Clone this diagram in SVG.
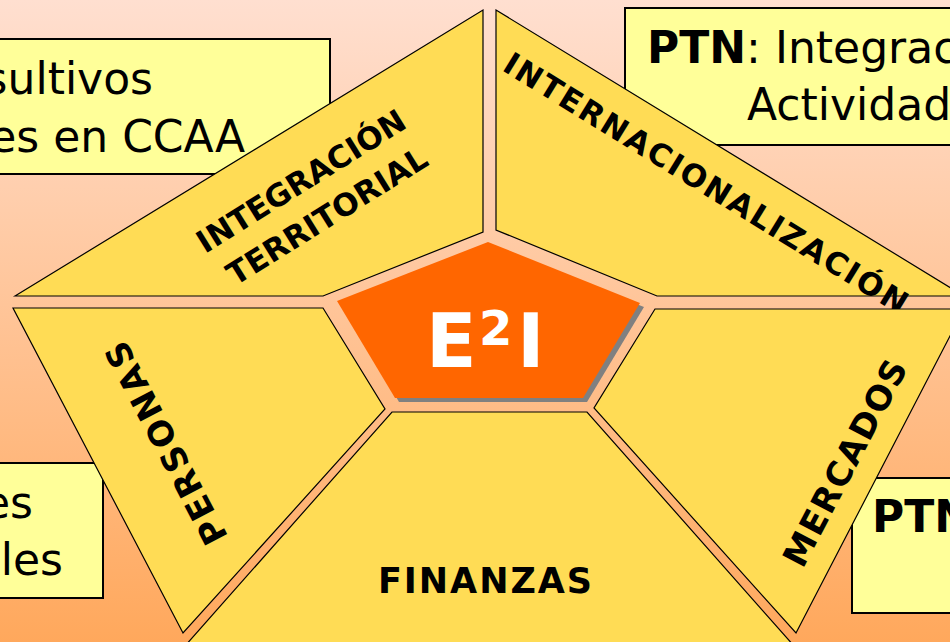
<svg xmlns="http://www.w3.org/2000/svg" width="950" height="642" viewBox="0 0 950 642">
<defs>
<linearGradient id="bg" x1="0" y1="0" x2="0" y2="642" gradientUnits="userSpaceOnUse">
<stop offset="0" stop-color="#FFDFD0"/>
<stop offset="1" stop-color="#FFA85C"/>
</linearGradient>
<style>
.box{fill:#FFFF99;stroke:#000;stroke-width:2}
.seg{fill:#FFDC55;stroke:#000;stroke-width:1.2;stroke-linejoin:miter}
.bt{font-family:"DejaVu Sans",sans-serif;font-size:44px;fill:#000}
.bb{font-weight:bold}
.lab{font-family:"DejaVu Sans",sans-serif;font-weight:bold;fill:#000}
.core{font-family:"DejaVu Sans",sans-serif;font-weight:bold;fill:#fff}
</style>
</defs>
<rect x="0" y="0" width="950" height="642" fill="url(#bg)"/>

<g id="box-consultivos">
<rect class="box" x="-10" y="39" width="340" height="135"/>
<text class="bt" x="153" y="94" text-anchor="end">sultivos</text>
<text class="bt" x="245" y="152" text-anchor="end">es en CCAA</text>
</g>
<g id="box-ptn-top">
<rect class="box" x="625" y="8" width="340" height="137"/>
<text class="bt" y="63"><tspan class="bb" x="647">PTN</tspan><tspan x="746">:</tspan><tspan x="775">Integrac</tspan></text>
<text class="bt" x="747" y="120">Actividad</text>
</g>
<g id="box-left-bottom">
<rect class="box" x="-10" y="463" width="113" height="135"/>
<text class="bt" x="33" y="518" text-anchor="end">es</text>
<text class="bt" x="63" y="575" text-anchor="end">ales</text>
</g>
<g id="box-ptn-bottom">
<rect class="box" x="852" y="478" width="110" height="135"/>
<text class="bt bb" x="872" y="532">PTN</text>
</g>

<g id="seg-integracion">
<polygon class="seg" points="15,296 483,10 483,232 323,296"/>
<g transform="translate(301,181) rotate(-32)">
<text class="lab" x="0" y="11" font-size="31" text-anchor="middle" textLength="240" lengthAdjust="spacing">INTEGRACIÓN</text>
</g>
<g transform="translate(327,216) rotate(-32)">
<text class="lab" x="0" y="11" font-size="31" text-anchor="middle" textLength="230" lengthAdjust="spacing">TERRITORIAL</text>
</g>
</g>

<g id="seg-internacionalizacion">
<polygon class="seg" points="496,10 964,296 657,296 496,230"/>
<g transform="translate(706,183) rotate(31.6)">
<text class="lab" x="0" y="11" font-size="31" text-anchor="middle" textLength="468" lengthAdjust="spacing">INTERNACIONALIZACIÓN</text>
</g>
</g>

<g id="seg-personas">
<polygon class="seg" points="13,308 323,308 385,409 183,633"/>
<g transform="translate(166,443) rotate(-117.6)">
<text class="lab" x="0" y="12" font-size="34" text-anchor="middle" textLength="224" lengthAdjust="spacing">PERSONAS</text>
</g>
</g>

<g id="seg-finanzas">
<polygon class="seg" points="392,412 587,412 802,655 177,655"/>
<text class="lab" x="485" y="593" font-size="35" text-anchor="middle" textLength="214" lengthAdjust="spacing">FINANZAS</text>
</g>

<g id="seg-mercados">
<polygon class="seg" points="655,309 964,309 796,633 594,408"/>
<g transform="translate(845,463) rotate(-62.4)">
<text class="lab" x="0" y="12" font-size="34" text-anchor="middle" textLength="228" lengthAdjust="spacing">MERCADOS</text>
</g>
</g>

<g id="core-e2i">
<polygon points="492,246 344,305 399,402 587,402 644,307" fill="#808080"/>
<polygon points="488,242 337,301 395,398 583,398 640,303" fill="#FF6600"/>
<text class="core" x="426" y="367" font-size="74">E</text>
<text class="core" x="479" y="345" font-size="48">2</text>
<text class="core" x="517" y="367" font-size="74">I</text>
</g>
</svg>
